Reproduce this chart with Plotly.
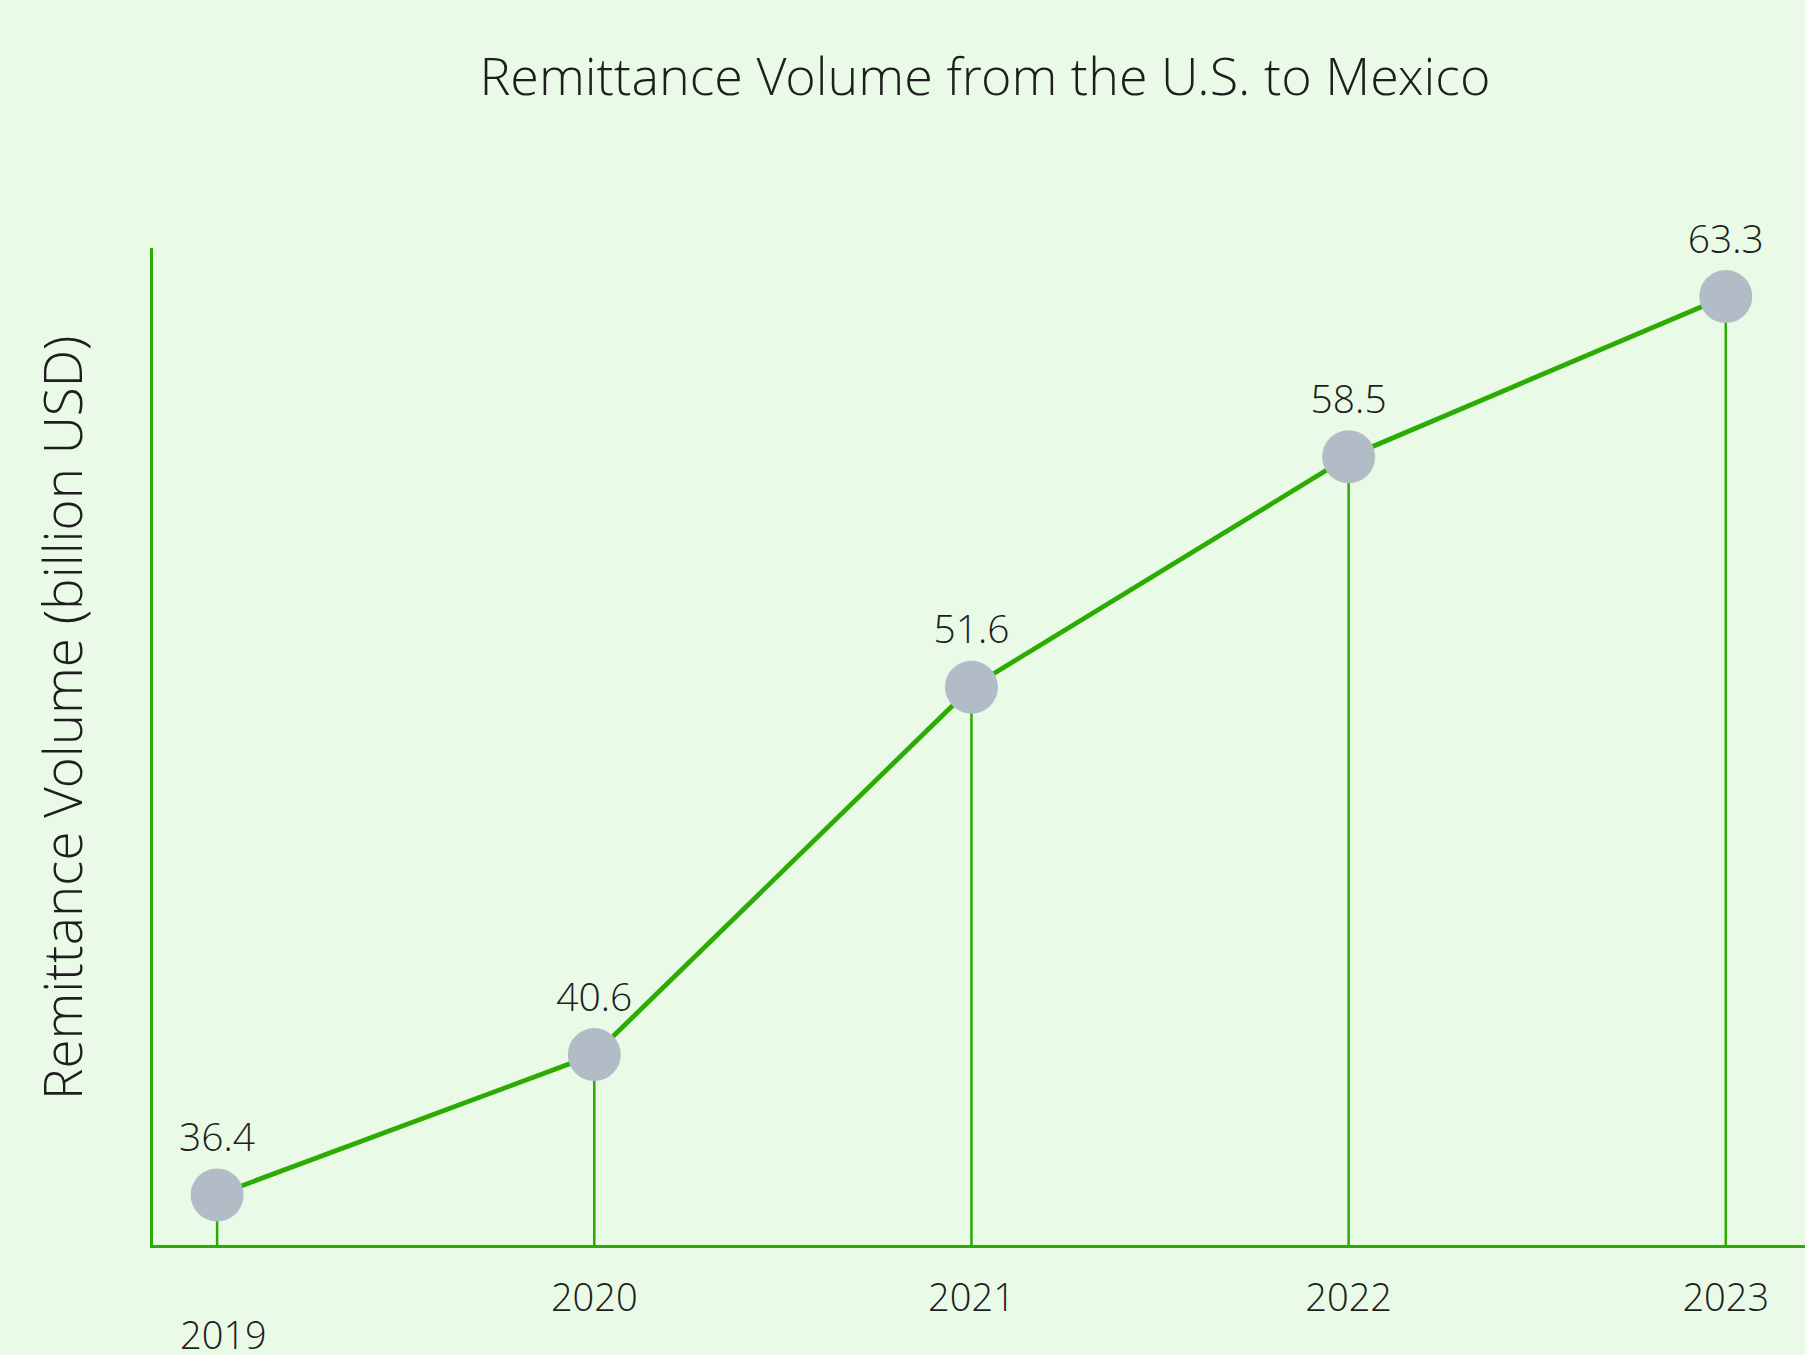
import plotly.graph_objects as go

years = [2019, 2020, 2021, 2022, 2023]
volume = [36.4, 40.6, 51.6, 58.5, 63.3]
tick_labels = ["2019", "2020", "2021", "2022", "2023"]

title_text = "Remittance Volume from the U.S. to Mexico"
y_title = "Remittance Volume (billion USD)"

BG = "#e9fbe6"
GREEN = "#2cab02"
MARKER = "#b1bcc6"
TXT = "#1e1e1e"
FONT = "Open Sans Light, Open Sans"

y_min, y_max = 34.9, 64.75

# drop lines from axis up to each point
dx, dy = [], []
for x, v in zip(years, volume):
    dx += [x, x, None]
    dy += [y_min, v, None]

fig = go.Figure()
fig.add_trace(go.Scatter(
    x=dx, y=dy, mode="lines",
    line=dict(color=GREEN, width=2.5),
    hoverinfo="skip", showlegend=False, cliponaxis=False,
))
fig.add_trace(go.Scatter(
    x=years, y=volume, mode="lines+markers+text",
    line=dict(color=GREEN, width=4.8),
    marker=dict(size=53, color=MARKER, line=dict(width=0)),
    text=[f"{v:.1f}" for v in volume],
    textposition="top center",
    textfont=dict(family=FONT, size=39, color=TXT, weight=300),
    showlegend=False, cliponaxis=False,
))

fig.update_layout(
    width=1805, height=1355,
    paper_bgcolor=BG, plot_bgcolor=BG,
    margin=dict(l=153, r=0, t=248, b=110),
    font=dict(family=FONT, color=TXT, weight=300),
    title=dict(
        text=title_text, xref="container", x=985 / 1805, xanchor="center",
        yref="container", y=1 - 77 / 1355, yanchor="middle",
        font=dict(family=FONT, size=52, color=TXT, weight=300),
    ),
    xaxis=dict(
        range=[2018.83, 2023.21],
        tickvals=years[1:], ticktext=tick_labels[1:],
        showgrid=False, zeroline=False,
        showline=True, linecolor=GREEN, linewidth=3,
        ticks="", ticklabelstandoff=17,
        tickfont=dict(family=FONT, size=38, color=TXT, weight=300),
    ),
    yaxis=dict(
        range=[y_min, y_max],
        showgrid=False, zeroline=False,
        showline=True, linecolor=GREEN, linewidth=3,
        ticks="", showticklabels=False,
    ),
    annotations=[
        dict(
            text=y_title, textangle=-90, xref="paper", yref="paper",
            x=(61 - 153) / 1652, y=(1245 - 718) / 997,
            xanchor="center", yanchor="middle", showarrow=False,
            font=dict(family=FONT, size=53, color=TXT, weight=300),
        ),
        dict(
            text=tick_labels[0], xref="x", yref="paper",
            x=years[0], y=(1245 - 1334) / 997, xshift=6,
            xanchor="center", yanchor="middle", showarrow=False,
            font=dict(family=FONT, size=38, color=TXT, weight=300),
        ),
    ],
)

fig.write_html(
    "out.html",
    config={"displayModeBar": False},
    post_script="document.body.style.margin='0';document.body.style.overflow='hidden';",
)
